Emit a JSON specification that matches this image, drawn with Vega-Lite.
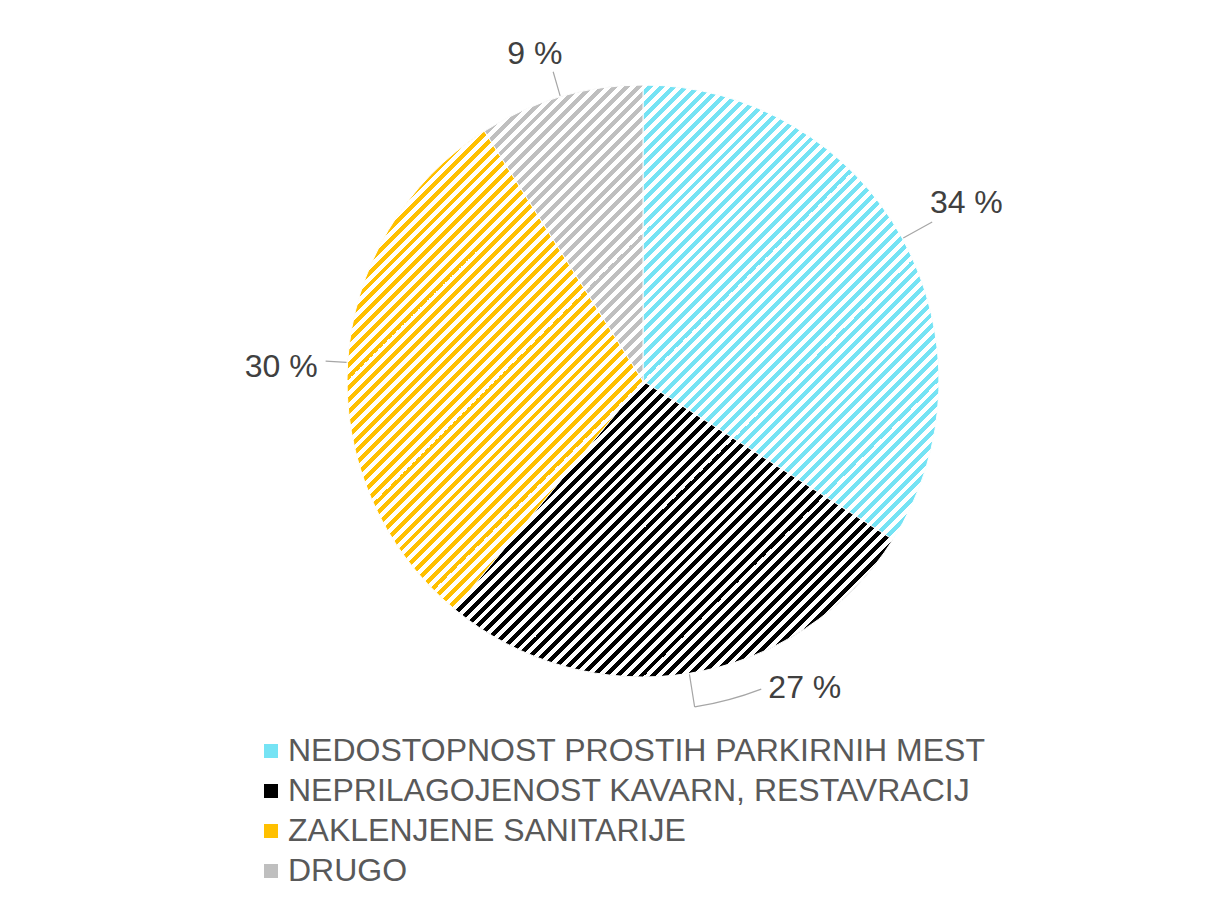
{
"$schema": "https://vega.github.io/schema/vega-lite/v6.json",
"autosize": "none",
"width": 592,
"height": 592,
"padding": {"left": 347, "top": 85, "right": 269, "bottom": 220},
"background": "white",
"config": {
  "view": {"stroke": null},
  "legend": {"orient": "none", "legendX": -92, "legendY": 650, "direction": "vertical", "padding": 0, "labelFont": "Liberation Sans", "labelFontSize": 32, "labelColor": "#595959", "symbolType": "square", "symbolSize": 196, "symbolStrokeWidth": 0, "labelOffset": 1, "rowPadding": 8, "labelLimit": 0}
},
"data": {"values": [
  {"c": "NEDOSTOPNOST PROSTIH PARKIRNIH MEST", "v": 34, "i": 1, "lab": "34 %"},
  {"c": "NEPRILAGOJENOST KAVARN, RESTAVRACIJ", "v": 27, "i": 2, "lab": "27 %"},
  {"c": "ZAKLENJENE SANITARIJE", "v": 30, "i": 3, "lab": "30 %"},
  {"c": "DRUGO", "v": 9, "i": 4, "lab": "9 %"}
]},
"layer": [
  {"mark": {"type": "arc", "stroke": "#ffffff", "strokeWidth": 1},
   "encoding": {
     "theta": {"field": "v", "type": "quantitative", "stack": true},
     "order": {"field": "i", "type": "quantitative"},
     "color": {"field": "c", "type": "nominal", "title": null,
       "scale": {"domain": ["NEDOSTOPNOST PROSTIH PARKIRNIH MEST", "NEPRILAGOJENOST KAVARN, RESTAVRACIJ", "ZAKLENJENE SANITARIJE", "DRUGO"], "range": ["#75e3f4", "#000000", "#ffc000", "#bfbfbf"]}}
   }},
  {"mark": {"type": "arc", "fill": {"gradient": "linear", "x1": 0, "y1": 0, "x2": 1, "y2": 1, "stops": [
{"offset":0,"color":"#fff"},{"offset":0.005,"color":"#fff"},{"offset":0.005,"color":"#fff0"},{"offset":0.01,"color":"#fff0"},
{"offset":0.01,"color":"#fff"},{"offset":0.015,"color":"#fff"},{"offset":0.015,"color":"#fff0"},{"offset":0.02,"color":"#fff0"},
{"offset":0.02,"color":"#fff"},{"offset":0.025,"color":"#fff"},{"offset":0.025,"color":"#fff0"},{"offset":0.03,"color":"#fff0"},
{"offset":0.03,"color":"#fff"},{"offset":0.035,"color":"#fff"},{"offset":0.035,"color":"#fff0"},{"offset":0.04,"color":"#fff0"},
{"offset":0.04,"color":"#fff"},{"offset":0.045,"color":"#fff"},{"offset":0.045,"color":"#fff0"},{"offset":0.05,"color":"#fff0"},
{"offset":0.05,"color":"#fff"},{"offset":0.055,"color":"#fff"},{"offset":0.055,"color":"#fff0"},{"offset":0.06,"color":"#fff0"},
{"offset":0.06,"color":"#fff"},{"offset":0.065,"color":"#fff"},{"offset":0.065,"color":"#fff0"},{"offset":0.07,"color":"#fff0"},
{"offset":0.07,"color":"#fff"},{"offset":0.075,"color":"#fff"},{"offset":0.075,"color":"#fff0"},{"offset":0.08,"color":"#fff0"},
{"offset":0.08,"color":"#fff"},{"offset":0.085,"color":"#fff"},{"offset":0.085,"color":"#fff0"},{"offset":0.09,"color":"#fff0"},
{"offset":0.09,"color":"#fff"},{"offset":0.095,"color":"#fff"},{"offset":0.095,"color":"#fff0"},{"offset":0.1,"color":"#fff0"},
{"offset":0.1,"color":"#fff"},{"offset":0.105,"color":"#fff"},{"offset":0.105,"color":"#fff0"},{"offset":0.11,"color":"#fff0"},
{"offset":0.11,"color":"#fff"},{"offset":0.115,"color":"#fff"},{"offset":0.115,"color":"#fff0"},{"offset":0.12,"color":"#fff0"},
{"offset":0.12,"color":"#fff"},{"offset":0.125,"color":"#fff"},{"offset":0.125,"color":"#fff0"},{"offset":0.13,"color":"#fff0"},
{"offset":0.13,"color":"#fff"},{"offset":0.135,"color":"#fff"},{"offset":0.135,"color":"#fff0"},{"offset":0.14,"color":"#fff0"},
{"offset":0.14,"color":"#fff"},{"offset":0.145,"color":"#fff"},{"offset":0.145,"color":"#fff0"},{"offset":0.15,"color":"#fff0"},
{"offset":0.15,"color":"#fff"},{"offset":0.155,"color":"#fff"},{"offset":0.155,"color":"#fff0"},{"offset":0.16,"color":"#fff0"},
{"offset":0.16,"color":"#fff"},{"offset":0.165,"color":"#fff"},{"offset":0.165,"color":"#fff0"},{"offset":0.17,"color":"#fff0"},
{"offset":0.17,"color":"#fff"},{"offset":0.175,"color":"#fff"},{"offset":0.175,"color":"#fff0"},{"offset":0.18,"color":"#fff0"},
{"offset":0.18,"color":"#fff"},{"offset":0.185,"color":"#fff"},{"offset":0.185,"color":"#fff0"},{"offset":0.19,"color":"#fff0"},
{"offset":0.19,"color":"#fff"},{"offset":0.195,"color":"#fff"},{"offset":0.195,"color":"#fff0"},{"offset":0.2,"color":"#fff0"},
{"offset":0.2,"color":"#fff"},{"offset":0.205,"color":"#fff"},{"offset":0.205,"color":"#fff0"},{"offset":0.21,"color":"#fff0"},
{"offset":0.21,"color":"#fff"},{"offset":0.215,"color":"#fff"},{"offset":0.215,"color":"#fff0"},{"offset":0.22,"color":"#fff0"},
{"offset":0.22,"color":"#fff"},{"offset":0.225,"color":"#fff"},{"offset":0.225,"color":"#fff0"},{"offset":0.23,"color":"#fff0"},
{"offset":0.23,"color":"#fff"},{"offset":0.235,"color":"#fff"},{"offset":0.235,"color":"#fff0"},{"offset":0.24,"color":"#fff0"},
{"offset":0.24,"color":"#fff"},{"offset":0.245,"color":"#fff"},{"offset":0.245,"color":"#fff0"},{"offset":0.25,"color":"#fff0"},
{"offset":0.25,"color":"#fff"},{"offset":0.255,"color":"#fff"},{"offset":0.255,"color":"#fff0"},{"offset":0.26,"color":"#fff0"},
{"offset":0.26,"color":"#fff"},{"offset":0.265,"color":"#fff"},{"offset":0.265,"color":"#fff0"},{"offset":0.27,"color":"#fff0"},
{"offset":0.27,"color":"#fff"},{"offset":0.275,"color":"#fff"},{"offset":0.275,"color":"#fff0"},{"offset":0.28,"color":"#fff0"},
{"offset":0.28,"color":"#fff"},{"offset":0.285,"color":"#fff"},{"offset":0.285,"color":"#fff0"},{"offset":0.29,"color":"#fff0"},
{"offset":0.29,"color":"#fff"},{"offset":0.295,"color":"#fff"},{"offset":0.295,"color":"#fff0"},{"offset":0.3,"color":"#fff0"},
{"offset":0.3,"color":"#fff"},{"offset":0.305,"color":"#fff"},{"offset":0.305,"color":"#fff0"},{"offset":0.31,"color":"#fff0"},
{"offset":0.31,"color":"#fff"},{"offset":0.315,"color":"#fff"},{"offset":0.315,"color":"#fff0"},{"offset":0.32,"color":"#fff0"},
{"offset":0.32,"color":"#fff"},{"offset":0.325,"color":"#fff"},{"offset":0.325,"color":"#fff0"},{"offset":0.33,"color":"#fff0"},
{"offset":0.33,"color":"#fff"},{"offset":0.335,"color":"#fff"},{"offset":0.335,"color":"#fff0"},{"offset":0.34,"color":"#fff0"},
{"offset":0.34,"color":"#fff"},{"offset":0.345,"color":"#fff"},{"offset":0.345,"color":"#fff0"},{"offset":0.35,"color":"#fff0"},
{"offset":0.35,"color":"#fff"},{"offset":0.355,"color":"#fff"},{"offset":0.355,"color":"#fff0"},{"offset":0.36,"color":"#fff0"},
{"offset":0.36,"color":"#fff"},{"offset":0.365,"color":"#fff"},{"offset":0.365,"color":"#fff0"},{"offset":0.37,"color":"#fff0"},
{"offset":0.37,"color":"#fff"},{"offset":0.375,"color":"#fff"},{"offset":0.375,"color":"#fff0"},{"offset":0.38,"color":"#fff0"},
{"offset":0.38,"color":"#fff"},{"offset":0.385,"color":"#fff"},{"offset":0.385,"color":"#fff0"},{"offset":0.39,"color":"#fff0"},
{"offset":0.39,"color":"#fff"},{"offset":0.395,"color":"#fff"},{"offset":0.395,"color":"#fff0"},{"offset":0.4,"color":"#fff0"},
{"offset":0.4,"color":"#fff"},{"offset":0.405,"color":"#fff"},{"offset":0.405,"color":"#fff0"},{"offset":0.41,"color":"#fff0"},
{"offset":0.41,"color":"#fff"},{"offset":0.415,"color":"#fff"},{"offset":0.415,"color":"#fff0"},{"offset":0.42,"color":"#fff0"},
{"offset":0.42,"color":"#fff"},{"offset":0.425,"color":"#fff"},{"offset":0.425,"color":"#fff0"},{"offset":0.43,"color":"#fff0"},
{"offset":0.43,"color":"#fff"},{"offset":0.435,"color":"#fff"},{"offset":0.435,"color":"#fff0"},{"offset":0.44,"color":"#fff0"},
{"offset":0.44,"color":"#fff"},{"offset":0.445,"color":"#fff"},{"offset":0.445,"color":"#fff0"},{"offset":0.45,"color":"#fff0"},
{"offset":0.45,"color":"#fff"},{"offset":0.455,"color":"#fff"},{"offset":0.455,"color":"#fff0"},{"offset":0.46,"color":"#fff0"},
{"offset":0.46,"color":"#fff"},{"offset":0.465,"color":"#fff"},{"offset":0.465,"color":"#fff0"},{"offset":0.47,"color":"#fff0"},
{"offset":0.47,"color":"#fff"},{"offset":0.475,"color":"#fff"},{"offset":0.475,"color":"#fff0"},{"offset":0.48,"color":"#fff0"},
{"offset":0.48,"color":"#fff"},{"offset":0.485,"color":"#fff"},{"offset":0.485,"color":"#fff0"},{"offset":0.49,"color":"#fff0"},
{"offset":0.49,"color":"#fff"},{"offset":0.495,"color":"#fff"},{"offset":0.495,"color":"#fff0"},{"offset":0.5,"color":"#fff0"},
{"offset":0.5,"color":"#fff"},{"offset":0.505,"color":"#fff"},{"offset":0.505,"color":"#fff0"},{"offset":0.51,"color":"#fff0"},
{"offset":0.51,"color":"#fff"},{"offset":0.515,"color":"#fff"},{"offset":0.515,"color":"#fff0"},{"offset":0.52,"color":"#fff0"},
{"offset":0.52,"color":"#fff"},{"offset":0.525,"color":"#fff"},{"offset":0.525,"color":"#fff0"},{"offset":0.53,"color":"#fff0"},
{"offset":0.53,"color":"#fff"},{"offset":0.535,"color":"#fff"},{"offset":0.535,"color":"#fff0"},{"offset":0.54,"color":"#fff0"},
{"offset":0.54,"color":"#fff"},{"offset":0.545,"color":"#fff"},{"offset":0.545,"color":"#fff0"},{"offset":0.55,"color":"#fff0"},
{"offset":0.55,"color":"#fff"},{"offset":0.555,"color":"#fff"},{"offset":0.555,"color":"#fff0"},{"offset":0.56,"color":"#fff0"},
{"offset":0.56,"color":"#fff"},{"offset":0.565,"color":"#fff"},{"offset":0.565,"color":"#fff0"},{"offset":0.57,"color":"#fff0"},
{"offset":0.57,"color":"#fff"},{"offset":0.575,"color":"#fff"},{"offset":0.575,"color":"#fff0"},{"offset":0.58,"color":"#fff0"},
{"offset":0.58,"color":"#fff"},{"offset":0.585,"color":"#fff"},{"offset":0.585,"color":"#fff0"},{"offset":0.59,"color":"#fff0"},
{"offset":0.59,"color":"#fff"},{"offset":0.595,"color":"#fff"},{"offset":0.595,"color":"#fff0"},{"offset":0.6,"color":"#fff0"},
{"offset":0.6,"color":"#fff"},{"offset":0.605,"color":"#fff"},{"offset":0.605,"color":"#fff0"},{"offset":0.61,"color":"#fff0"},
{"offset":0.61,"color":"#fff"},{"offset":0.615,"color":"#fff"},{"offset":0.615,"color":"#fff0"},{"offset":0.62,"color":"#fff0"},
{"offset":0.62,"color":"#fff"},{"offset":0.625,"color":"#fff"},{"offset":0.625,"color":"#fff0"},{"offset":0.63,"color":"#fff0"},
{"offset":0.63,"color":"#fff"},{"offset":0.635,"color":"#fff"},{"offset":0.635,"color":"#fff0"},{"offset":0.64,"color":"#fff0"},
{"offset":0.64,"color":"#fff"},{"offset":0.645,"color":"#fff"},{"offset":0.645,"color":"#fff0"},{"offset":0.65,"color":"#fff0"},
{"offset":0.65,"color":"#fff"},{"offset":0.655,"color":"#fff"},{"offset":0.655,"color":"#fff0"},{"offset":0.66,"color":"#fff0"},
{"offset":0.66,"color":"#fff"},{"offset":0.665,"color":"#fff"},{"offset":0.665,"color":"#fff0"},{"offset":0.67,"color":"#fff0"},
{"offset":0.67,"color":"#fff"},{"offset":0.675,"color":"#fff"},{"offset":0.675,"color":"#fff0"},{"offset":0.68,"color":"#fff0"},
{"offset":0.68,"color":"#fff"},{"offset":0.685,"color":"#fff"},{"offset":0.685,"color":"#fff0"},{"offset":0.69,"color":"#fff0"},
{"offset":0.69,"color":"#fff"},{"offset":0.695,"color":"#fff"},{"offset":0.695,"color":"#fff0"},{"offset":0.7,"color":"#fff0"},
{"offset":0.7,"color":"#fff"},{"offset":0.705,"color":"#fff"},{"offset":0.705,"color":"#fff0"},{"offset":0.71,"color":"#fff0"},
{"offset":0.71,"color":"#fff"},{"offset":0.715,"color":"#fff"},{"offset":0.715,"color":"#fff0"},{"offset":0.72,"color":"#fff0"},
{"offset":0.72,"color":"#fff"},{"offset":0.725,"color":"#fff"},{"offset":0.725,"color":"#fff0"},{"offset":0.73,"color":"#fff0"},
{"offset":0.73,"color":"#fff"},{"offset":0.735,"color":"#fff"},{"offset":0.735,"color":"#fff0"},{"offset":0.74,"color":"#fff0"},
{"offset":0.74,"color":"#fff"},{"offset":0.745,"color":"#fff"},{"offset":0.745,"color":"#fff0"},{"offset":0.75,"color":"#fff0"},
{"offset":0.75,"color":"#fff"},{"offset":0.755,"color":"#fff"},{"offset":0.755,"color":"#fff0"},{"offset":0.76,"color":"#fff0"},
{"offset":0.76,"color":"#fff"},{"offset":0.765,"color":"#fff"},{"offset":0.765,"color":"#fff0"},{"offset":0.77,"color":"#fff0"},
{"offset":0.77,"color":"#fff"},{"offset":0.775,"color":"#fff"},{"offset":0.775,"color":"#fff0"},{"offset":0.78,"color":"#fff0"},
{"offset":0.78,"color":"#fff"},{"offset":0.785,"color":"#fff"},{"offset":0.785,"color":"#fff0"},{"offset":0.79,"color":"#fff0"},
{"offset":0.79,"color":"#fff"},{"offset":0.795,"color":"#fff"},{"offset":0.795,"color":"#fff0"},{"offset":0.8,"color":"#fff0"},
{"offset":0.8,"color":"#fff"},{"offset":0.805,"color":"#fff"},{"offset":0.805,"color":"#fff0"},{"offset":0.81,"color":"#fff0"},
{"offset":0.81,"color":"#fff"},{"offset":0.815,"color":"#fff"},{"offset":0.815,"color":"#fff0"},{"offset":0.82,"color":"#fff0"},
{"offset":0.82,"color":"#fff"},{"offset":0.825,"color":"#fff"},{"offset":0.825,"color":"#fff0"},{"offset":0.83,"color":"#fff0"},
{"offset":0.83,"color":"#fff"},{"offset":0.835,"color":"#fff"},{"offset":0.835,"color":"#fff0"},{"offset":0.84,"color":"#fff0"},
{"offset":0.84,"color":"#fff"},{"offset":0.845,"color":"#fff"},{"offset":0.845,"color":"#fff0"},{"offset":0.85,"color":"#fff0"},
{"offset":0.85,"color":"#fff"},{"offset":0.855,"color":"#fff"},{"offset":0.855,"color":"#fff0"},{"offset":0.86,"color":"#fff0"},
{"offset":0.86,"color":"#fff"},{"offset":0.865,"color":"#fff"},{"offset":0.865,"color":"#fff0"},{"offset":0.87,"color":"#fff0"},
{"offset":0.87,"color":"#fff"},{"offset":0.875,"color":"#fff"},{"offset":0.875,"color":"#fff0"},{"offset":0.88,"color":"#fff0"},
{"offset":0.88,"color":"#fff"},{"offset":0.885,"color":"#fff"},{"offset":0.885,"color":"#fff0"},{"offset":0.89,"color":"#fff0"},
{"offset":0.89,"color":"#fff"},{"offset":0.895,"color":"#fff"},{"offset":0.895,"color":"#fff0"},{"offset":0.9,"color":"#fff0"},
{"offset":0.9,"color":"#fff"},{"offset":0.905,"color":"#fff"},{"offset":0.905,"color":"#fff0"},{"offset":0.91,"color":"#fff0"},
{"offset":0.91,"color":"#fff"},{"offset":0.915,"color":"#fff"},{"offset":0.915,"color":"#fff0"},{"offset":0.92,"color":"#fff0"},
{"offset":0.92,"color":"#fff"},{"offset":0.925,"color":"#fff"},{"offset":0.925,"color":"#fff0"},{"offset":0.93,"color":"#fff0"},
{"offset":0.93,"color":"#fff"},{"offset":0.935,"color":"#fff"},{"offset":0.935,"color":"#fff0"},{"offset":0.94,"color":"#fff0"},
{"offset":0.94,"color":"#fff"},{"offset":0.945,"color":"#fff"},{"offset":0.945,"color":"#fff0"},{"offset":0.95,"color":"#fff0"},
{"offset":0.95,"color":"#fff"},{"offset":0.955,"color":"#fff"},{"offset":0.955,"color":"#fff0"},{"offset":0.96,"color":"#fff0"},
{"offset":0.96,"color":"#fff"},{"offset":0.965,"color":"#fff"},{"offset":0.965,"color":"#fff0"},{"offset":0.97,"color":"#fff0"},
{"offset":0.97,"color":"#fff"},{"offset":0.975,"color":"#fff"},{"offset":0.975,"color":"#fff0"},{"offset":0.98,"color":"#fff0"},
{"offset":0.98,"color":"#fff"},{"offset":0.985,"color":"#fff"},{"offset":0.985,"color":"#fff0"},{"offset":0.99,"color":"#fff0"},
{"offset":0.99,"color":"#fff"},{"offset":0.995,"color":"#fff"},{"offset":0.995,"color":"#fff0"},{"offset":1,"color":"#fff0"}
]}},
   "encoding": {"theta": {"aggregate": "sum", "field": "v", "type": "quantitative"}}},
  {"mark": {"type": "arc", "fillOpacity": 0, "stroke": "#a6a6a6", "strokeWidth": 1.2, "innerRadius": 297, "outerRadius": 330, "padAngle": 3.14},
   "encoding": {
     "theta": {"field": "v", "type": "quantitative", "stack": true},
     "order": {"field": "i", "type": "quantitative"},
     "detail": {"field": "c", "type": "nominal"},
     "opacity": {"condition": {"test": "datum.i === 1 || datum.i === 2", "value": 1}, "value": 0}
   }},
  {"mark": {"type": "arc", "fillOpacity": 0, "stroke": "#a6a6a6", "strokeWidth": 1.2, "innerRadius": 330, "outerRadius": 330, "thetaOffset": -0.10472, "padAngle": 0.9983},
   "encoding": {
     "theta": {"field": "v", "type": "quantitative", "stack": true},
     "order": {"field": "i", "type": "quantitative"},
     "detail": {"field": "c", "type": "nominal"},
     "opacity": {"condition": {"test": "datum.i === 2", "value": 1}, "value": 0}
   }},
  {"mark": {"type": "arc", "fillOpacity": 0, "stroke": "#a6a6a6", "strokeWidth": 1.2, "innerRadius": 297, "outerRadius": 318, "padAngle": 3.14},
   "encoding": {
     "theta": {"field": "v", "type": "quantitative", "stack": true},
     "order": {"field": "i", "type": "quantitative"},
     "detail": {"field": "c", "type": "nominal"},
     "opacity": {"condition": {"test": "datum.i === 3", "value": 1}, "value": 0}
   }},
  {"mark": {"type": "arc", "fillOpacity": 0, "stroke": "#a6a6a6", "strokeWidth": 1.2, "innerRadius": 297, "outerRadius": 322, "padAngle": 3.14},
   "encoding": {
     "theta": {"field": "v", "type": "quantitative", "stack": true},
     "order": {"field": "i", "type": "quantitative"},
     "detail": {"field": "c", "type": "nominal"},
     "opacity": {"condition": {"test": "datum.i === 4", "value": 1}, "value": 0}
   }},
  {"mark": {"type": "text", "font": "Liberation Sans", "fontSize": 32, "color": "#404040", "align": "center", "baseline": "middle"},
   "encoding": {
     "theta": {"field": "v", "type": "quantitative", "stack": true},
     "order": {"field": "i", "type": "quantitative"},
     "detail": {"field": "c", "type": "nominal"},
     "radius": {"value": 369},
     "text": {"field": "lab"},
     "opacity": {"condition": {"test": "datum.i === 1", "value": 1}, "value": 0}
   }},
  {"mark": {"type": "text", "font": "Liberation Sans", "fontSize": 32, "color": "#404040", "align": "center", "baseline": "middle", "thetaOffset": -0.328},
   "encoding": {
     "theta": {"field": "v", "type": "quantitative", "stack": true},
     "order": {"field": "i", "type": "quantitative"},
     "detail": {"field": "c", "type": "nominal"},
     "radius": {"value": 347},
     "text": {"field": "lab"},
     "opacity": {"condition": {"test": "datum.i === 2", "value": 1}, "value": 0}
   }},
  {"mark": {"type": "text", "font": "Liberation Sans", "fontSize": 32, "color": "#404040", "align": "center", "baseline": "middle", "thetaOffset": -0.024},
   "encoding": {
     "theta": {"field": "v", "type": "quantitative", "stack": true},
     "order": {"field": "i", "type": "quantitative"},
     "detail": {"field": "c", "type": "nominal"},
     "radius": {"value": 362},
     "text": {"field": "lab"},
     "opacity": {"condition": {"test": "datum.i === 3", "value": 1}, "value": 0}
   }},
  {"mark": {"type": "text", "font": "Liberation Sans", "fontSize": 32, "color": "#404040", "align": "center", "baseline": "middle", "thetaOffset": -0.037},
   "encoding": {
     "theta": {"field": "v", "type": "quantitative", "stack": true},
     "order": {"field": "i", "type": "quantitative"},
     "detail": {"field": "c", "type": "nominal"},
     "radius": {"value": 344},
     "text": {"field": "lab"},
     "opacity": {"condition": {"test": "datum.i === 4", "value": 1}, "value": 0}
   }}
]
}
